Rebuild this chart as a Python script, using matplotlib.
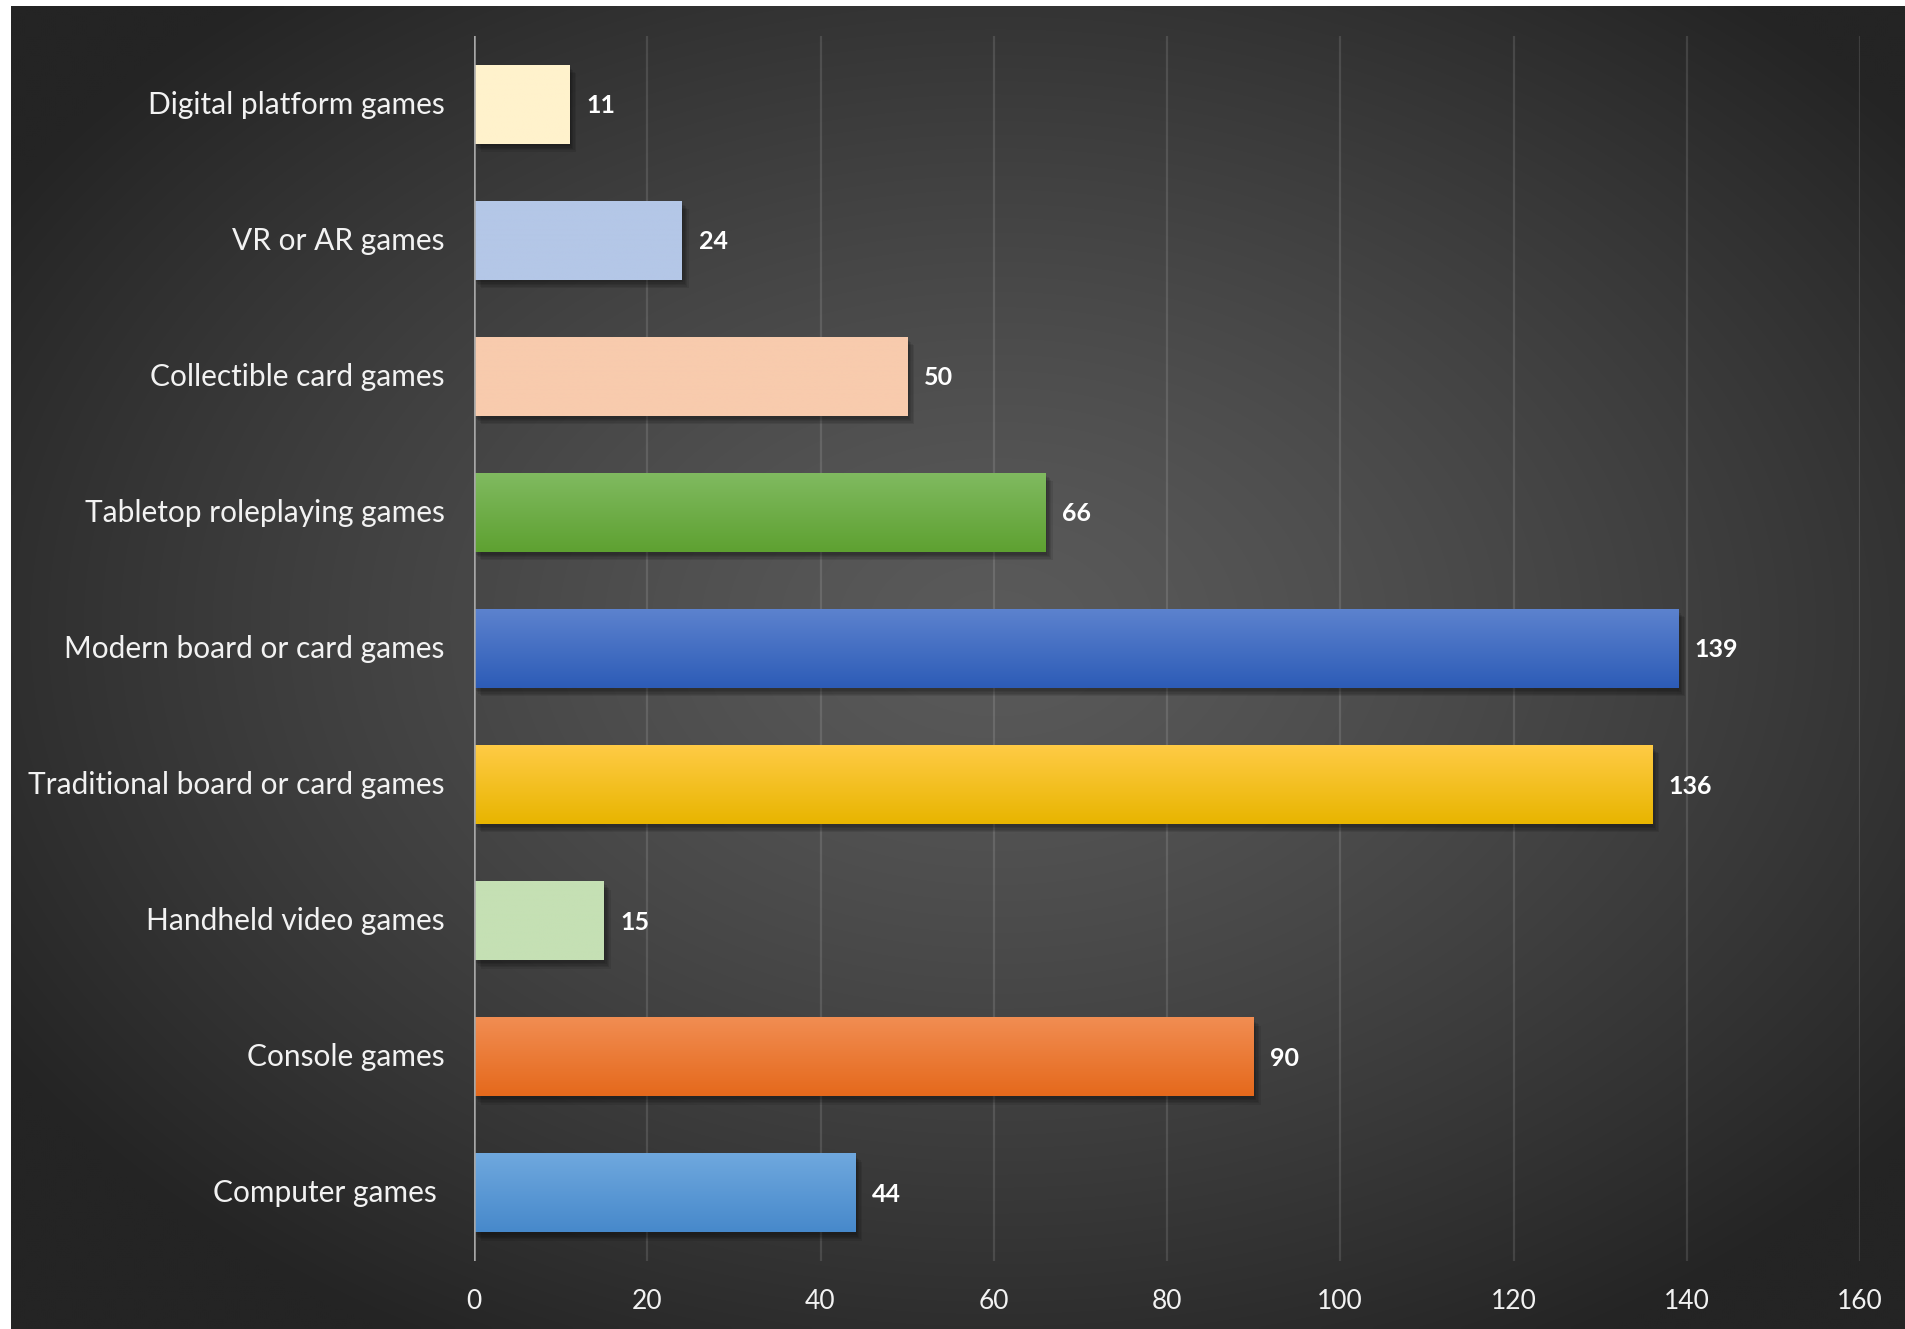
import matplotlib
matplotlib.use("Agg")
import matplotlib.pyplot as plt
import matplotlib.patheffects as pe
import matplotlib.transforms as mtrans
import numpy as np

plt.rcParams['font.family'] = ['Lato', 'DejaVu Sans']

categories = ["Computer games ", "Console games", "Handheld video games",
              "Traditional board or card games", "Modern board or card games",
              "Tabletop roleplaying games", "Collectible card games",
              "VR or AR games", "Digital platform games"]
values = [44, 90, 15, 136, 139, 66, 50, 24, 11]
# top / bottom colour of each bar's vertical gradient
top_colors = ["#6FA8DE", "#F18D52", "#C5E0B4", "#FFCB45", "#5C82CE",
              "#80BA60", "#F8CBAD", "#B4C7E7", "#FFF2CC"]
bottom_colors = ["#4789CB", "#E5691C", "#C5E0B4", "#E8B500", "#2D5CB7",
                 "#5EA131", "#F8CBAD", "#B4C7E7", "#FFF2CC"]
xticks = [0, 20, 40, 60, 80, 100, 120, 140, 160]

W, H = 1905, 1329
fig = plt.figure(figsize=(W / 100, H / 100), dpi=100, facecolor="white")

# dark background with a soft radial highlight
bg = fig.add_axes([11 / W, 0, 1 - 11 / W, 1 - 6 / H])
bg.set_axis_off()
gx, gy = np.meshgrid(np.linspace(0, 1, 400), np.linspace(0, 1, 300))
r = np.sqrt(((gx - 0.52) / 0.62) ** 2 + ((gy - 0.47) / 0.62) ** 2)
shade = 0x5a - (0x5a - 0x24) * np.clip(r, 0, 1) ** 1.3
bg.imshow(np.dstack([shade, shade, shade]) / 255, aspect="auto",
          extent=[0, 1, 0, 1], interpolation="bilinear")

ax = fig.add_axes([474 / W, 1 - 1261 / H, (1860 - 474) / W, (1261 - 36) / H])
ax.set_facecolor("none")
ax.set_xlim(0, 160)
ax.set_ylim(-0.5, len(categories) - 0.5)

# soft drop shadow built from a few faint offset copies
shadow = [pe.SimplePatchShadow(offset=(o, -o - 1), shadow_rgbFace="black", alpha=0.09)
          for o in (1, 2, 3, 4, 5)]

y = np.arange(len(categories))
bar_h = 0.58
bars = ax.barh(y, values, height=bar_h, color=bottom_colors, zorder=3)
for bar, c_top, c_bot in zip(bars, top_colors, bottom_colors):
    bar.set_path_effects(shadow + [pe.Normal()])
    grad = np.linspace(0, 1, 64)[:, None]
    t = np.array(matplotlib.colors.to_rgb(c_top))
    b = np.array(matplotlib.colors.to_rgb(c_bot))
    img = (t[None, None, :] * (1 - grad[..., None]) + b[None, None, :] * grad[..., None])
    x0, y0 = bar.get_x(), bar.get_y()
    im = ax.imshow(img, aspect="auto", interpolation="bilinear", zorder=4,
                   extent=[x0, x0 + bar.get_width(), y0, y0 + bar.get_height()])
    im.set_clip_path(bar)

for yi, v in zip(y, values):
    ax.annotate(str(v), (v, yi), xytext=(12, -1), textcoords="offset points",
                ha="left", va="center", color="white", fontsize=18,
                fontweight="bold", zorder=5)

ax.set_xticks(xticks)
ax.set_yticks(y)
ax.set_yticklabels(categories)
ax.tick_params(axis="x", length=0, pad=20, labelsize=19, labelcolor="#F2F2F2")
ax.tick_params(axis="y", length=0, pad=21, labelsize=21.5, labelcolor="#F2F2F2")
# nudge category labels up slightly
lift = mtrans.ScaledTranslation(0, 2 / 100, fig.dpi_scale_trans)
for lab in ax.get_yticklabels():
    lab.set_transform(lab.get_transform() + lift)
ax.grid(axis="x", color="white", alpha=0.12, linewidth=1.6, zorder=1)
for s in ax.spines.values():
    s.set_visible(False)
ax.axvline(0, color="#A6A6A6", linewidth=1.8, zorder=6)

fig.savefig("out.png", dpi=100, facecolor="white")
